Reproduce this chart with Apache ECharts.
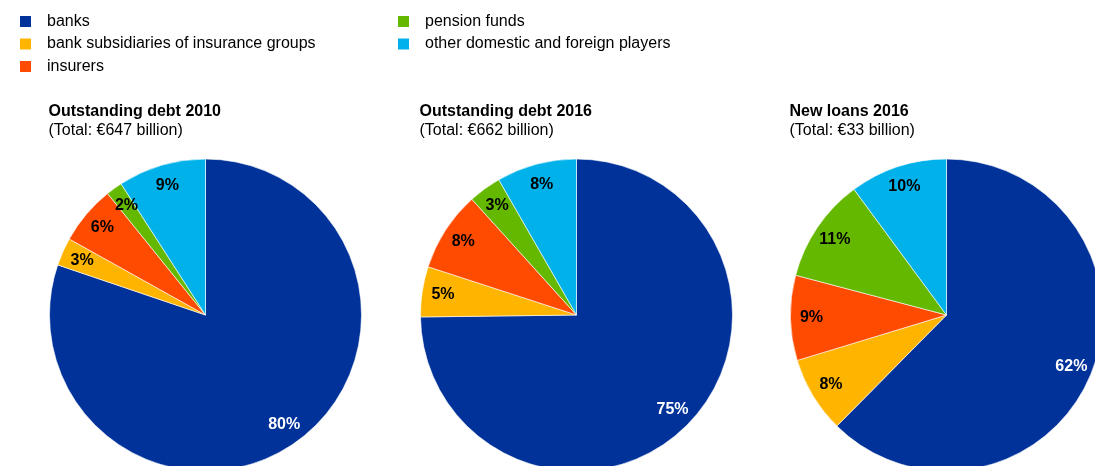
<!DOCTYPE html>
<html>
<head>
<meta charset="utf-8">
<script src="https://cdn.jsdelivr.net/npm/echarts@6/dist/echarts.min.js"></script>
<style>
html,body{margin:0;padding:0;background:#fff;}
#chart{width:1095px;height:466px;}
</style>
</head>
<body>
<div id="chart"></div>
<script>
const categories = ['banks', 'bank subsidiaries of insurance groups', 'insurers', 'pension funds', 'other domestic and foreign players'];
const colors = ['#003299', '#FFB400', '#FF4B00', '#65B800', '#00B1EA'];
const titles = ['Outstanding debt 2010', 'Outstanding debt 2016', 'New loans 2016'];
const subtitles = ['(Total: €647 billion)', '(Total: €662 billion)', '(Total: €33 billion)'];
const debt2010 = [80.2, 2.9, 6.1, 1.7, 9.1];
const debt2016 = [74.8, 5.2, 8.3, 3.4, 8.3];
const loans2016 = [62.4, 7.9, 8.8, 10.8, 10.1];

const seriesValues = [debt2010, debt2016, loans2016];
const centersX = [205.5, 576.5, 946.5];
const centerY = 315;
const R = 156;
const FONT = 'Liberation Sans, Arial, sans-serif';

function makeData(vals, forLabels) {
  return vals.map((v, i) => ({
    name: categories[i],
    value: v,
    itemStyle: forLabels ? { color: 'rgba(0,0,0,0)', borderWidth: 0 } : { color: colors[i] },
    label: { color: i === 0 ? '#fff' : '#000' }
  }));
}

const series = [];
seriesValues.forEach((vals, k) => {
  series.push({
    type: 'pie',
    center: [centersX[k], centerY],
    radius: [0, R],
    startAngle: 90,
    clockwise: true,
    animation: false,
    silent: true,
    itemStyle: { borderColor: '#fff', borderWidth: 0.6 },
    label: { show: false },
    labelLine: { show: false },
    data: makeData(vals, false)
  });
});
seriesValues.forEach((vals, k) => {
  series.push({
    type: 'pie',
    center: [centersX[k], centerY],
    radius: [108, R],
    startAngle: 90,
    clockwise: true,
    animation: false,
    silent: true,
    legendHoverLink: false,
    label: {
      show: true,
      position: 'inside',
      fontFamily: FONT,
      fontWeight: 'bold',
      fontSize: 16,
      formatter: p => Math.round(p.value) + '%'
    },
    labelLine: { show: false },
    data: makeData(vals, true)
  });
});

const legendText = { fontFamily: FONT, fontSize: 16, color: '#000', padding: [0, 0, 0, 11], lineHeight: 16 };
const legendItem = i => ({ name: categories[i], icon: 'rect', itemStyle: { color: colors[i], borderWidth: 0, opacity: 1 } });
const option = {
  backgroundColor: '#fff',
  animation: false,
  title: titles.map((t, k) => ({
    text: t,
    subtext: subtitles[k],
    left: centersX[k] - 157,
    top: 104,
    padding: 0,
    itemGap: 3,
    textStyle: { fontFamily: FONT, fontSize: 16, fontWeight: 'bold', color: '#000' },
    subtextStyle: { fontFamily: FONT, fontSize: 16, color: '#000' }
  })),
  legend: [
    {
      orient: 'vertical', left: 20, top: 13.5, padding: 0,
      itemWidth: 11, itemHeight: 11, itemGap: 6.5,
      selectedMode: false,
      textStyle: legendText,
      data: [0, 1, 2].map(legendItem)
    },
    {
      orient: 'vertical', left: 398, top: 13.5, padding: 0,
      itemWidth: 11, itemHeight: 11, itemGap: 6.5,
      selectedMode: false,
      textStyle: legendText,
      data: [3, 4].map(legendItem)
    }
  ],
  series: series
};

const chart = echarts.init(document.getElementById('chart'), null, { renderer: 'canvas' });
chart.setOption(option);
</script>
</body>
</html>
